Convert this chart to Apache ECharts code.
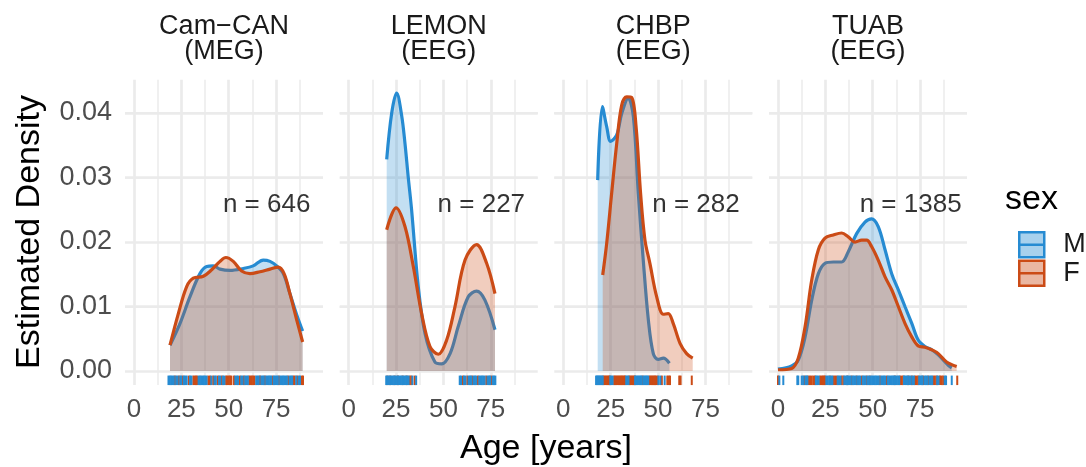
<!DOCTYPE html>
<html>
<head>
<meta charset="utf-8">
<script src="https://cdn.jsdelivr.net/npm/echarts@6/dist/echarts.min.js"></script>
<style>
  html, body { margin: 0; padding: 0; background: #fff; }
  #chart { width: 1086px; height: 467px; }
</style>
</head>
<body>
<div id="chart"></div>
<script>
// facet titles and sample sizes
var panels = ['Cam\u2212CAN\n(MEG)', 'LEMON\n(EEG)', 'CHBP\n(EEG)', 'TUAB\n(EEG)'];
var counts = [646, 227, 282, 1385];

// axis ticks
var xMajor = [0, 25, 50, 75];
var xMinor = [12.5, 37.5, 62.5, 87.5];
var yMajor = [0, 0.01, 0.02, 0.03, 0.04];
var yMinor = [0.005, 0.015, 0.025, 0.035, 0.045];

// density curves [age, density]
var camcanM = [[19.0,0.0040],[24.3,0.0074],[29.5,0.0115],[34.8,0.0151],[38.4,0.0162],[41.8,0.0163],[45.4,0.0158],[50.7,0.0156],[57.7,0.0159],[62.9,0.0163],[68.2,0.0172],[71.8,0.0170],[75.3,0.0163],[78.8,0.0151],[82.3,0.0120],[85.9,0.0087],[89.0,0.0062]];
var camcanF = [[19.0,0.0040],[23.4,0.0089],[27.8,0.0131],[31.3,0.0144],[36.6,0.0147],[41.0,0.0157],[45.4,0.0170],[48.5,0.0176],[52.4,0.0170],[56.8,0.0155],[61.2,0.0151],[66.5,0.0154],[71.8,0.0158],[76.1,0.0161],[79.2,0.0151],[82.3,0.0120],[85.9,0.0079],[89.0,0.0045]];

var lemonM = [[20.05,0.0328],[22.7,0.0400],[25.3,0.0431],[27.9,0.0397],[29.7,0.0353],[31.4,0.0301],[33.2,0.0250],[36.7,0.0131],[40.3,0.0058],[45.5,0.0014],[49.1,0.0011],[53.5,0.0027],[57.8,0.0069],[63.1,0.0115],[67.5,0.0124],[71.9,0.0110],[77.2,0.0064]];
var lemonF = [[20.05,0.0219],[25.0,0.0253],[29.7,0.0224],[34.1,0.0162],[38.5,0.0089],[42.9,0.0038],[47.3,0.0026],[51.7,0.0048],[56.1,0.0100],[61.4,0.0172],[67.5,0.0196],[72.8,0.0167],[77.2,0.0120]];

var chbpM = [[18.15,0.0296],[20.6,0.0410],[22.9,0.0379],[25.0,0.0356],[28.2,0.0366],[30.8,0.0399],[34.3,0.0423],[37.0,0.0394],[39.6,0.0275],[42.2,0.0172],[44.9,0.0079],[47.5,0.0027],[50.1,0.0018],[52.8,0.0020],[56.0,0.0012]];
var chbpF = [[20.8,0.0149],[22.9,0.0198],[25.5,0.0275],[28.2,0.0353],[30.8,0.0412],[33.5,0.0425],[36.1,0.0424],[38.4,0.0379],[40.8,0.0275],[43.1,0.0203],[45.7,0.0167],[49.3,0.0115],[52.8,0.0088],[55.4,0.0089],[58.0,0.0074],[61.6,0.0043],[65.1,0.0027],[68.3,0.0020]];

var tuabM = [[0,0.0003],[7.2,0.0008],[10.7,0.0017],[14.3,0.0053],[17.8,0.0110],[21.3,0.0151],[24.8,0.0167],[29.2,0.0169],[33.6,0.0169],[37.1,0.0185],[41.5,0.0213],[45.9,0.0231],[49.4,0.0236],[52.9,0.0224],[56.5,0.0188],[60.0,0.0151],[63.5,0.0126],[67.0,0.0100],[70.6,0.0074],[74.0,0.0048],[77.6,0.0038],[81.1,0.0033],[84.6,0.0025],[89.9,0.0009],[91.7,0.0005]];
var tuabF = [[0,0.0002],[7.2,0.0004],[10.7,0.0020],[14.3,0.0069],[17.8,0.0141],[21.3,0.0188],[24.8,0.0206],[29.2,0.0211],[33.6,0.0214],[37.1,0.0208],[40.6,0.0200],[44.2,0.0203],[46.8,0.0203],[49.4,0.0193],[52.9,0.0172],[56.5,0.0146],[60.0,0.0126],[63.5,0.0100],[67.0,0.0074],[70.6,0.0053],[74.0,0.0039],[77.6,0.0037],[81.1,0.0033],[84.6,0.0027],[89.0,0.0014],[94.3,0.0007]];

// rug ages (visible ticks)
var camcanRugM = [18.2,18.9,19.6,20.3,21.0,22.3,23.0,24.4,25.0,26.4,27.1,27.8,29.6,30.3,34.1,34.8,35.5,36.2,36.9,37.6,38.3,40.8,42.5,43.2,44.9,45.6,47.0,47.7,53.5,54.2,54.9,56.6,57.3,58.7,59.4,60.1,64.5,65.2,65.8,67.2,67.9,68.5,69.8,70.5,71.2,71.9,72.5,73.9,74.6,75.3,75.9,77.2,77.9,78.6,79.3,80.0,80.7,82.1,82.8,83.5,85.6,86.9,87.6];
var camcanRugF = [21.6,23.7,25.7,28.9,31.3,32.0,32.7,33.4,39.2,40.1,41.8,44.2,46.3,48.6,49.3,50.0,50.7,51.4,52.8,55.9,58.0,60.8,61.5,62.2,62.9,63.6,66.5,69.1,73.2,76.5,81.4,84.1,84.8,86.2,88.5,89.2];
var lemonRugM = [19.8,20.5,21.2,21.9,22.6,23.3,24.0,24.7,25.4,26.1,26.8,27.5,28.2,28.9,29.6,30.3,31.0,31.6,33.6,35.6,58.6,59.3,60.9,61.6,63.3,64.0,64.6,65.9,66.6,67.3,68.9,69.6,70.3,71.0,71.7,73.3,74.0,74.6,76.0,76.7,77.4];
var lemonRugF = [20.4,22.0,24.2,26.0,28.5,30.6,32.2,33.0,34.8,60.3,62.6,65.2,68.2,72.6,75.3];
var chbpRugM = [17.3,17.8,18.3,18.8,19.3,19.8,20.3,20.8,24.8,25.4,26.0,33.2,33.8,34.4,37.9,38.5,39.1,39.7,40.3,40.9,41.4,42.4,43.0,43.6,44.2,44.8,50.2,51.2,53.5];
var chbpRugF = [21.1,21.7,22.3,22.9,23.5,24.1,24.6,26.8,27.4,28.0,28.6,29.2,29.8,30.4,31.0,31.6,32.2,32.6,34.8,35.4,36.0,36.6,37.2,37.8,41.9,45.4,46.0,46.6,47.2,47.8,48.4,49.0,49.8,52.0,54.9,55.6,56.3,61.2,61.9,67.8];
var tuabRugM = [0.7,2.8,10.2,10.7,12.5,13.3,14.5,15.0,15.5,20.0,20.7,21.4,25.5,26.2,27.0,28.0,28.7,31.5,32.2,33.0,35.0,35.7,36.4,37.0,37.7,38.4,39.5,40.2,41.0,42.0,42.7,43.4,44.8,45.5,46.2,47.3,48.0,49.0,49.7,50.4,51.1,51.8,52.5,53.2,54.5,55.2,55.9,56.6,58.0,58.7,59.4,60.1,60.8,61.3,62.0,62.7,63.4,64.0,66.5,67.2,67.9,68.5,69.3,70.0,71.0,71.7,74.5,75.2,75.9,76.3,77.5,78.2,78.9,80.0,80.7,81.4,84.0,84.7,88.0,88.7,91.7];
var tuabRugF = [0,13.9,16.0,16.9,17.8,18.7,19.5,22.2,23.0,23.6,24.2,24.8,27.4,29.2,30.1,31.0,33.6,34.5,36.6,38.9,41.5,44.2,46.8,48.5,53.8,57.4,61.7,64.4,65.3,66.1,68.8,70.6,72.3,73.2,74.0,76.7,79.3,82.0,82.8,83.7,85.5,86.4,87.2,94.6];

var densM = [camcanM, lemonM, chbpM, tuabM];
var densF = [camcanF, lemonF, chbpF, tuabF];
var rugM = [camcanRugM, lemonRugM, chbpRugM, tuabRugM];
var rugF = [camcanRugF, lemonRugF, chbpRugF, tuabRugF];

var C_M = '#268BD2', C_F = '#CB4B16';
var FILL_M = 'rgba(38,139,210,0.4)', FILL_F = 'rgba(203,75,22,0.4)';
var FONT = "'Liberation Sans', Arial, Helvetica, sans-serif";
var GRID_COL = '#EBEBEB';

var X_MIN = -4.75, X_MAX = 99.75;
var Y_MIN = -0.00215, Y_MAX = 0.04515;
var RUG_Y = Y_MIN + 0.015 * (Y_MAX - Y_MIN);
var LABEL_AT = [70, 0.0257];

var lefts = [125, 339.7, 554.3, 769];
var PW = 198, PTOP = 79.8, PH = 305.1;

var chart = echarts.init(document.getElementById('chart'), null, { renderer: 'canvas' });

var grids = [], xAxes = [], yAxes = [], series = [], graphics = [];

// panel grid lines (major + minor), drawn under the densities
function gridLines() {
  var d = [];
  xMajor.forEach(function (v) { d.push({ xAxis: v, lineStyle: { width: 2.7 } }); });
  xMinor.forEach(function (v) { d.push({ xAxis: v, lineStyle: { width: 1.5 } }); });
  yMajor.forEach(function (v) { d.push({ yAxis: v, lineStyle: { width: 2.7 } }); });
  yMinor.forEach(function (v) { d.push({ yAxis: v, lineStyle: { width: 1.5 } }); });
  return {
    z: 0, silent: true, symbol: ['none', 'none'], animation: false,
    label: { show: false },
    emphasis: { disabled: true },
    lineStyle: { color: GRID_COL, type: 'solid' },
    data: d
  };
}

for (var i = 0; i < 4; i++) {
  grids.push({ left: lefts[i], top: PTOP, width: PW, height: PH });
  xAxes.push({
    type: 'value', gridIndex: i, min: X_MIN, max: X_MAX,
    axisLine: { show: false }, axisTick: { show: false }, splitLine: { show: false },
    axisLabel: { customValues: xMajor, fontSize: 26, color: '#4D4D4D', fontFamily: FONT, margin: 12 }
  });
  yAxes.push({
    type: 'value', gridIndex: i, min: Y_MIN, max: Y_MAX,
    axisLine: { show: false }, axisTick: { show: false }, splitLine: { show: false },
    axisLabel: {
      show: i === 0, customValues: yMajor, fontSize: 27, color: '#4D4D4D', fontFamily: FONT, margin: 13,
      formatter: function (v) { return v.toFixed(2); }
    }
  });

  series.push({
    name: 'M', type: 'line', xAxisIndex: i, yAxisIndex: i, data: densM[i],
    smooth: 0.35, symbol: 'none', z: 2,
    lineStyle: { color: C_M, width: 3.2 }, itemStyle: { color: C_M },
    areaStyle: { color: FILL_M },
    emphasis: { disabled: true },
    markLine: gridLines()
  });
  series.push({
    name: 'F', type: 'line', xAxisIndex: i, yAxisIndex: i, data: densF[i],
    smooth: 0.35, symbol: 'none', z: 3,
    lineStyle: { color: C_F, width: 3.2 }, itemStyle: { color: C_F },
    areaStyle: { color: FILL_F },
    emphasis: { disabled: true }
  });
  series.push({
    name: 'F rug', type: 'scatter', xAxisIndex: i, yAxisIndex: i, z: 4,
    data: rugF[i].map(function (a) { return [a, RUG_Y]; }),
    symbol: 'rect', symbolSize: [2, 9.5], itemStyle: { color: C_F, opacity: 1 },
    emphasis: { disabled: true }, silent: true
  });
  series.push({
    name: 'M rug', type: 'scatter', xAxisIndex: i, yAxisIndex: i, z: 4,
    data: rugM[i].map(function (a) { return [a, RUG_Y]; }),
    symbol: 'rect', symbolSize: [2, 9.5], itemStyle: { color: C_M, opacity: 1 },
    emphasis: { disabled: true }, silent: true
  });
  series.push({
    name: 'n', type: 'scatter', xAxisIndex: i, yAxisIndex: i, z: 5,
    data: [LABEL_AT], symbolSize: 0, silent: true,
    label: {
      show: true, position: 'inside', formatter: 'n = ' + counts[i],
      fontSize: 26, color: '#000', fontFamily: FONT
    }
  });

  graphics.push({
    type: 'text', x: lefts[i] + PW / 2, y: 39.5,
    style: {
      text: panels[i], font: '27px ' + FONT, fill: '#1A1A1A',
      textAlign: 'center', textVerticalAlign: 'middle', lineHeight: 25
    }
  });
}

graphics.push({
  type: 'text', x: 30, y: 232, rotation: Math.PI / 2,
  style: { text: 'Estimated Density', font: '34px ' + FONT, fill: '#000', textAlign: 'center', textVerticalAlign: 'middle' }
});
graphics.push({
  type: 'text', x: 546, y: 449,
  style: { text: 'Age [years]', font: '34px ' + FONT, fill: '#000', textAlign: 'center', textVerticalAlign: 'middle' }
});
graphics.push({
  type: 'text', x: 1005, y: 200,
  style: { text: 'sex', font: '34px ' + FONT, fill: '#000', textAlign: 'left', textVerticalAlign: 'middle' }
});

var KEY_ICON = 'path://M0,0H20V20H0Z M0,10H20';

chart.setOption({
  animation: false,
  backgroundColor: '#fff',
  grid: grids,
  xAxis: xAxes,
  yAxis: yAxes,
  legend: {
    orient: 'vertical', left: 1018, top: 231, padding: 0, itemGap: 1,
    itemWidth: 25, itemHeight: 25, selectedMode: false,
    textStyle: { fontSize: 27, color: '#1A1A1A', fontFamily: FONT, padding: [0, 0, 0, 14] },
    data: [
      { name: 'M', icon: KEY_ICON, itemStyle: { color: FILL_M, borderColor: C_M, borderWidth: 2.5 } },
      { name: 'F', icon: KEY_ICON, itemStyle: { color: FILL_F, borderColor: C_F, borderWidth: 2.5 } }
    ]
  },
  graphic: graphics,
  series: series
});
</script>
</body>
</html>
